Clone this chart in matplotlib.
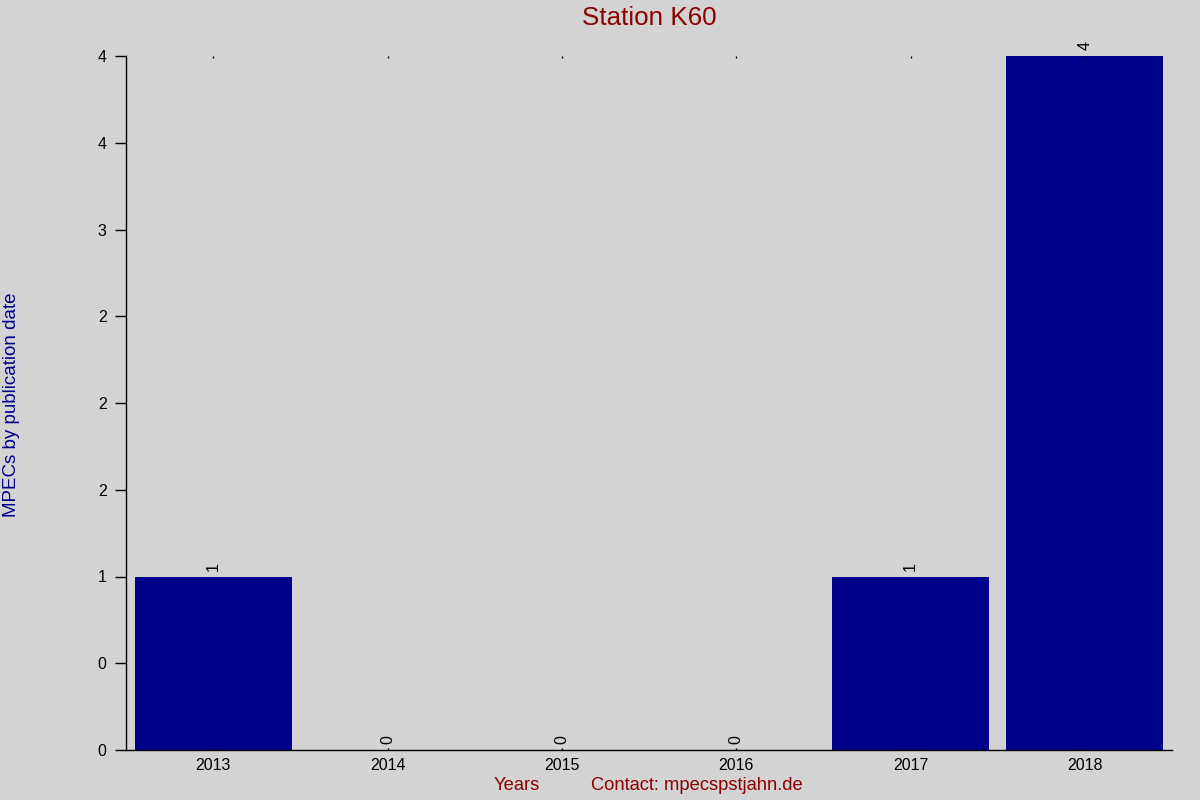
import matplotlib
matplotlib.use("Agg")
import matplotlib.pyplot as plt

# data
years = ["2013", "2014", "2015", "2016", "2017", "2018"]
counts = [1, 0, 0, 0, 1, 4]

plt.rcParams['font.family'] = ['Liberation Sans', 'DejaVu Sans']

bg = "#d3d3d3"
fig = plt.figure(figsize=(12, 8), dpi=100, facecolor=bg)
ax = fig.add_axes([0.105, 0.0625, 0.8717, 0.8675], facecolor=bg)

x = list(range(len(years)))
ax.bar(x, counts, width=0.9, color="#00008b")

for xi, c in zip(x, counts):
    ax.annotate(str(c), (xi, c), xytext=(0, 4), textcoords="offset points",
                rotation=90, ha="center", va="bottom", fontsize=11.5)

ax.set_xlim(-0.5, len(years) - 0.5)
ax.set_ylim(0, 4)

yt = [i * 0.5 for i in range(9)]
ax.set_yticks(yt)
ax.set_yticklabels([str(round(v)) for v in yt])
ax.set_xticks(x)
ax.set_xticklabels(years)

ax.tick_params(axis="y", direction="out", length=8, width=1, labelsize=11.5, pad=6)
ax.tick_params(axis="x", length=0, labelsize=11.5, pad=6)
ax.tick_params(axis="x", which="major", top=True, direction="in", length=1.5,
               width=1, color="black")

for s in ["top", "right"]:
    ax.spines[s].set_visible(False)
ax.spines["left"].set_linewidth(1)
ax.spines["bottom"].set_linewidth(1)

fig.text(0.541, 0.9775, "Station K60", ha="center", va="center",
         fontsize=18.7, color="#8b0000")
fig.text(0.0095, 0.494, "MPECs by publication date", rotation=90,
         ha="center", va="center", fontsize=13.5, color="#00008b")
fig.text(0.4305, 0.0175, "Years", ha="center", va="center",
         fontsize=13.2, color="#8b0000")
fig.text(0.581, 0.0175, "Contact: mpecspstjahn.de", ha="center", va="center",
         fontsize=13.2, color="#8b0000")

fig.savefig("out.png", dpi=100, facecolor=bg)
